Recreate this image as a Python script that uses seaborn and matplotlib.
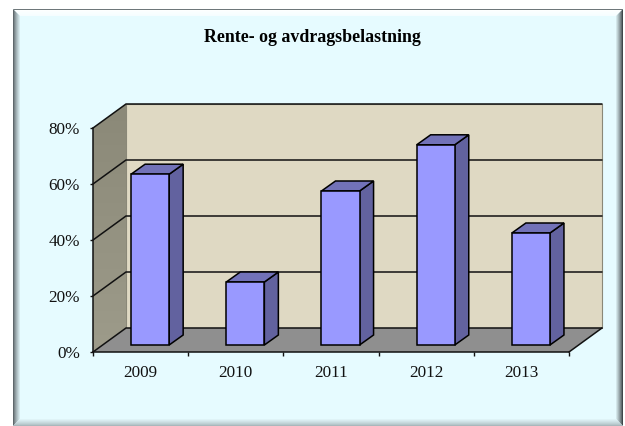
import numpy as np
import seaborn as sns
import matplotlib.pyplot as plt
from matplotlib.colors import LinearSegmentedColormap, to_rgb
from matplotlib.patches import Polygon

years = ["2009", "2010", "2011", "2012", "2013"]
values = [61, 22.5, 55, 71.5, 40]
y_ticks = [0, 20, 40, 60, 80]
y_labels = ["0%", "20%", "40%", "60%", "80%"]

W, H = 625, 426

sns.set_theme(style="white")
plt.rcParams["font.family"] = ["Liberation Serif", "DejaVu Serif"]

fig = plt.figure(figsize=(W / 100, H / 100), dpi=100, facecolor="white")


# ramme rundt diagrammet (pikselkoordinater, y nedover)
def frame_poly(pts, color):
    fig.add_artist(Polygon([(x / W, 1 - y / H) for x, y in pts], closed=True,
                           transform=fig.transFigure, facecolor=color, edgecolor="none", zorder=-2))


def mix(c1, c2, t):
    return tuple((1 - t) * a + t * b for a, b in zip(to_rgb(c1), to_rgb(c2)))


fill = "#E6FBFF"
x0, x1, y0, y1 = 13, 623, 9, 426
b = 7
frame_poly([(x0, y0), (x1, y0), (x1, y1), (x0, y1)], fill)
for i in range(b):
    t = (i / b) ** 0.8
    a0, a1, c0, c1 = x0 + i, x1 - i, y0 + i, y1 - i
    frame_poly([(a0, c0), (a1, c0), (a1 - 1, c0 + 1), (a0 + 1, c0 + 1)],
               "#6E777A" if i == 0 else mix("#FFFFFF", "#F4FDFF", t))
    frame_poly([(a0, c0), (a0 + 1, c0 + 1), (a0 + 1, c1 - 1), (a0, c1)], mix("#5F686C", fill, t))
    frame_poly([(a1, c0), (a1 - 1, c0 + 1), (a1 - 1, c1 - 1), (a1, c1)], mix("#3F474A", fill, t))
    frame_poly([(a0, c1), (a0 + 1, c1 - 1), (a1 - 1, c1 - 1), (a1, c1)], mix("#A9B8BC", fill, t))

ax = fig.add_axes([93 / W, 1 - 352 / H, 476 / W, 224 / H])
ax.patch.set_visible(False)

# dybde i dataenheter
dx, dy = 33 / 95.2, 24 / 2.8
bar_dx, bar_dy = 14 / 95.2, 10 / 2.8
lift = 2.5
shift = 0.1

sns.barplot(x=years, y=values, ax=ax, color="#9999FF", saturation=1, width=0.4,
            bottom=lift, edgecolor="black", linewidth=1.1, zorder=5)

left, right = -0.5, 4.5
ax.add_patch(Polygon([(left + dx, dy), (right + dx, dy), (right + dx, 80 + dy), (left + dx, 80 + dy)],
                     facecolor="#DFD9C3", edgecolor="#8A8878", lw=0.8, clip_on=False, zorder=1))
wall = Polygon([(left, 0), (left + dx, dy), (left + dx, 80 + dy), (left, 80)],
               facecolor="none", edgecolor="none", clip_on=False, zorder=1)
ax.add_patch(wall)
wall_cmap = LinearSegmentedColormap.from_list("wall", ["#8B8978", "#9D9B8A"])
img = ax.imshow(np.linspace(0, 1, 60)[:, None], cmap=wall_cmap, aspect="auto", origin="upper",
                extent=(left, left + dx, 0, 80 + dy), zorder=1)
img.set_clip_box(fig.bbox)
img.set_clip_path(wall)
ax.add_patch(Polygon([(left, 0), (right, 0), (right + dx, dy), (left + dx, dy)],
                     facecolor="#8F8F8F", edgecolor="none", clip_on=False, zorder=2))
ax.set_xlim(left, right)
ax.set_ylim(0, 80)

for v in y_ticks:
    ax.plot([left, left + dx, right + dx], [v, v + dy, v + dy], color="#111111", lw=1.1,
            clip_on=False, zorder=3, solid_joinstyle="miter")
ax.plot([right, right + dx], [0, dy], color="#111111", lw=1.1, clip_on=False, zorder=3)

# sideflate og topp på hver søyle
for p in ax.patches[:len(years)]:
    p.set_x(p.get_x() + shift)
    xl, xr = p.get_x(), p.get_x() + p.get_width()
    yb, yt = p.get_y(), p.get_y() + p.get_height()
    ax.add_patch(Polygon([(xr, yb), (xr + bar_dx, yb + bar_dy), (xr + bar_dx, yt + bar_dy), (xr, yt)],
                         facecolor="#62629F", edgecolor="black", lw=1.1, clip_on=False, zorder=4))
    ax.add_patch(Polygon([(xl, yt), (xr, yt), (xr + bar_dx, yt + bar_dy), (xl + bar_dx, yt + bar_dy)],
                         facecolor="#7272B8", edgecolor="black", lw=1.1, clip_on=False, zorder=4))

for s in ["top", "right"]:
    ax.spines[s].set_visible(False)
for s in ["left", "bottom"]:
    ax.spines[s].set_color("#111111")
    ax.spines[s].set_linewidth(1.1)
    ax.spines[s].set_zorder(6)

ax.set_yticks(y_ticks, labels=y_labels)
ax.set_xticks(range(len(years)), labels=years)
ax.set_xticks(np.arange(left, right + 1), minor=True)
ax.tick_params(axis="x", which="major", length=0, pad=9.5, labelsize=12.3, labelcolor="#111111")
ax.tick_params(axis="x", which="minor", length=3, width=1, color="#111111", bottom=True)
ax.tick_params(axis="y", which="major", length=2.5, width=1, color="#111111", left=True, pad=6.8,
               labelsize=12.3, labelcolor="#111111")
ax.set_xlabel("")
ax.set_ylabel("")

fig.text(312.5 / W, 1 - 37.5 / H, "Rente- og avdragsbelastning", ha="center", va="center",
         fontsize=12.9, fontweight="bold", color="black")

fig.savefig("out.png", dpi=100)
